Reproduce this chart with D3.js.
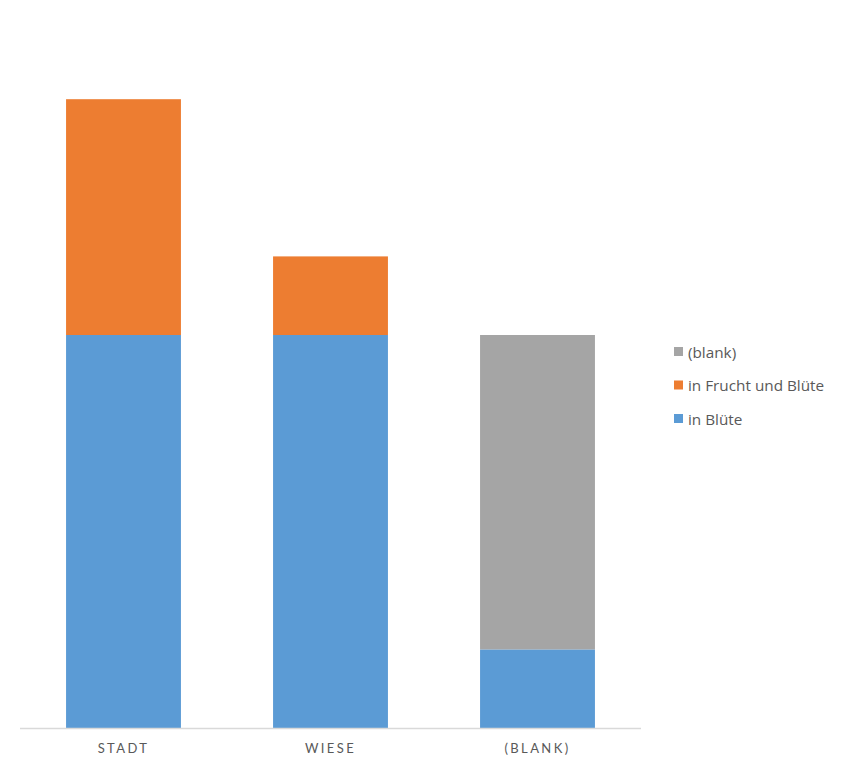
<!DOCTYPE html>
<html><head><meta charset="utf-8">
<script src="https://cdn.jsdelivr.net/npm/d3@7"></script>
<style>body{margin:0;background:#fff;} svg{display:block;}</style>
</head><body>
<svg id="chart" width="848" height="766"></svg>
<script>
const categories = ["Stadt", "Wiese", "(blank)"];
const seriesNames = ["in Blüte", "in Frucht und Blüte", "(blank)"];
const inBluete = [5, 5, 1];
const inFruchtUndBluete = [3, 1, 0];
const blank = [0, 0, 4];
const colors = ["#5B9BD5", "#ED7D31", "#A5A5A5"];

const rows = categories.map((c, i) => ({cat: c, s0: inBluete[i], s1: inFruchtUndBluete[i], s2: blank[i]}));
const stack = d3.stack().keys(["s0", "s1", "s2"])(rows);

const svg = d3.select("#chart");
const font = "Lato, 'Open Sans', sans-serif";
const x = d3.scaleBand().domain(categories).range([20, 641]).paddingInner(0.445).paddingOuter(0.2225);
const y = d3.scaleLinear().domain([0, 9]).range([728, 20.6]);

svg.append("g").selectAll("g").data(stack).join("g")
  .attr("fill", (d, i) => colors[i])
  .selectAll("rect").data(d => d).join("rect")
  .attr("x", d => x(d.data.cat))
  .attr("width", x.bandwidth())
  .attr("y", d => y(d[1]))
  .attr("height", d => y(d[0]) - y(d[1]));

const ax = svg.append("g").attr("transform", "translate(0,728)")
  .call(d3.axisBottom(x).tickSize(0).tickPadding(16).tickFormat(d => d.toUpperCase()));
ax.select(".domain").attr("stroke", "#D9D9D9").attr("stroke-width", 1.5).attr("d", "M20,0.5H641");
ax.selectAll("text").attr("font-family", font).attr("font-size", 13).attr("fill", "#595959")
  .attr("letter-spacing", "2.4px");

const legendOrder = [2, 1, 0];
const lg = svg.append("g");
legendOrder.forEach((si, k) => {
  const yy = 352 + k * 33.5;
  lg.append("rect").attr("x", 674).attr("y", yy - 5).attr("width", 9).attr("height", 9).attr("fill", colors[si]);
  lg.append("text").attr("x", 688).attr("y", yy + 5.5).attr("font-family", "'Open Sans', sans-serif").attr("font-size", 15.3)
    .attr("fill", "#595959").text(seriesNames[si]);
});
</script>
</body></html>
